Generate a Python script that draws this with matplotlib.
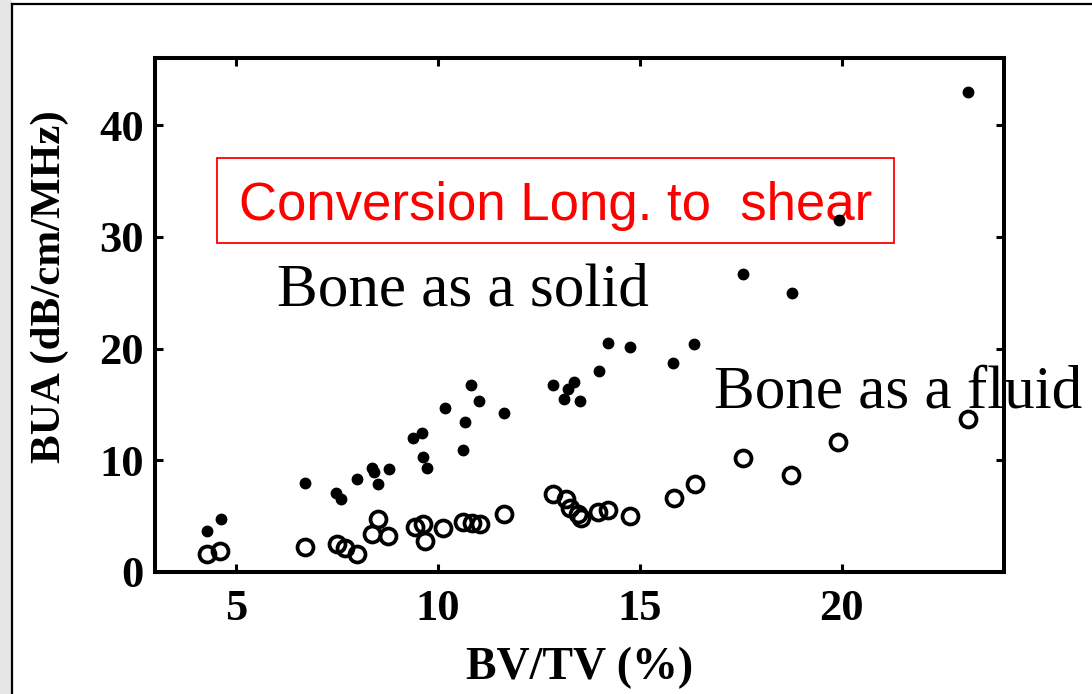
import matplotlib
matplotlib.use("Agg")
import matplotlib.pyplot as plt
from matplotlib.patches import Rectangle
from matplotlib.lines import Line2D

# BV/TV (%) vs BUA (dB/cm/MHz)
solid_x = [4.28, 4.63, 6.72, 7.49, 7.61, 8.01, 8.38, 8.43, 8.51, 8.78,
           9.38, 9.60, 9.63, 9.73, 10.17, 10.67, 10.62, 10.82, 11.02, 11.64,
           12.86, 13.36, 13.23, 13.11, 13.51, 13.98, 14.20, 14.75, 15.82, 16.34,
           17.56, 18.76, 19.93, 23.11]
solid_y = [3.7, 4.7, 8.0, 7.1, 6.5, 8.3, 9.3, 8.9, 7.9, 9.2,
           12.0, 12.4, 10.3, 9.3, 14.7, 13.4, 10.9, 16.7, 15.3, 14.2,
           16.7, 17.0, 16.4, 15.5, 15.3, 18.0, 20.5, 20.1, 18.7, 20.4,
           26.7, 25.0, 31.5, 43.0]

fluid_x = [4.28, 4.60, 6.72, 7.51, 7.69, 8.01, 8.51, 8.36, 8.76, 9.43,
           9.63, 9.68, 10.12, 10.62, 10.85, 11.04, 11.64, 12.86, 13.16, 13.28,
           13.46, 13.53, 13.96, 14.20, 14.75, 15.85, 16.37, 17.54, 18.73, 19.90,
           23.11]
fluid_y = [1.6, 1.9, 2.2, 2.5, 2.1, 1.6, 4.7, 3.4, 3.2, 4.0,
           4.3, 2.8, 3.9, 4.5, 4.4, 4.3, 5.2, 7.0, 6.5, 5.7,
           5.2, 4.8, 5.4, 5.5, 5.0, 6.6, 7.9, 10.2, 8.7, 11.6,
           13.7]

xticks = [5, 10, 15, 20]
yticks = [0, 10, 20, 30, 40]

serif = "Liberation Serif"

fig = plt.figure(figsize=(10.92, 6.94), dpi=100)
fig.patch.set_facecolor("white")

# slide-like frame: grey strip on the left, thin black lines
fig.patches.append(Rectangle((0, 0), 0.011, 1, transform=fig.transFigure,
                             facecolor="#e6e6e6", edgecolor="none", zorder=0))
fig.lines.append(Line2D([0.011, 0.011], [0, 0.994], transform=fig.transFigure,
                        color="black", lw=1.6))
fig.lines.append(Line2D([0.011, 1], [0.994, 0.994], transform=fig.transFigure,
                        color="black", lw=1.6))

ax = fig.add_axes([0.142, 0.176, 0.777, 0.740])

ax.plot(solid_x, solid_y, "o", color="black", ms=7.5, zorder=5)
ax.plot(fluid_x, fluid_y, "o", mfc="none", mec="black", ms=11.5, mew=2.7, zorder=5)

ax.set_xlim(3, 24)
ax.set_ylim(0, 46)
ax.set_xticks(xticks)
ax.set_yticks(yticks)
ax.tick_params(direction="in", length=6, width=2.2, top=True, right=True,
               labelsize=32)
ax.tick_params(axis="x", pad=12)
ax.tick_params(axis="y", pad=8)
for lab in ax.get_xticklabels() + ax.get_yticklabels():
    lab.set_fontfamily(serif)
    lab.set_fontweight("bold")
for sp in ax.spines.values():
    sp.set_linewidth(2.9)

ax.set_xlabel("BV/TV (%)", fontsize=33, fontweight="bold", family=serif, va="center")
ax.xaxis.set_label_coords(0.5, -0.187)
ax.set_ylabel("BUA (dB/cm/MHz)", fontsize=31, fontweight="bold", family=serif, va="center")
ax.yaxis.set_label_coords(-0.124, 0.556)

# annotations
ax.add_patch(Rectangle((4.53, 29.5), 16.76, 7.6, fill=False, edgecolor="red",
                       lw=1.3, zorder=3, clip_on=False))
ax.text(5.07, 31.5, "Conversion Long. to  shear", color="red", fontsize=38,
        family="Liberation Sans", va="baseline", ha="left", zorder=3)
ax.text(6.02, 23.9, "Bone as a solid", fontsize=44, family=serif,
        va="baseline", ha="left", zorder=3)
ax.text(16.84, 14.7, "Bone as a fluid", fontsize=44, family=serif,
        va="baseline", ha="left", zorder=3, clip_on=False)

fig.savefig("out.png", dpi=100)
